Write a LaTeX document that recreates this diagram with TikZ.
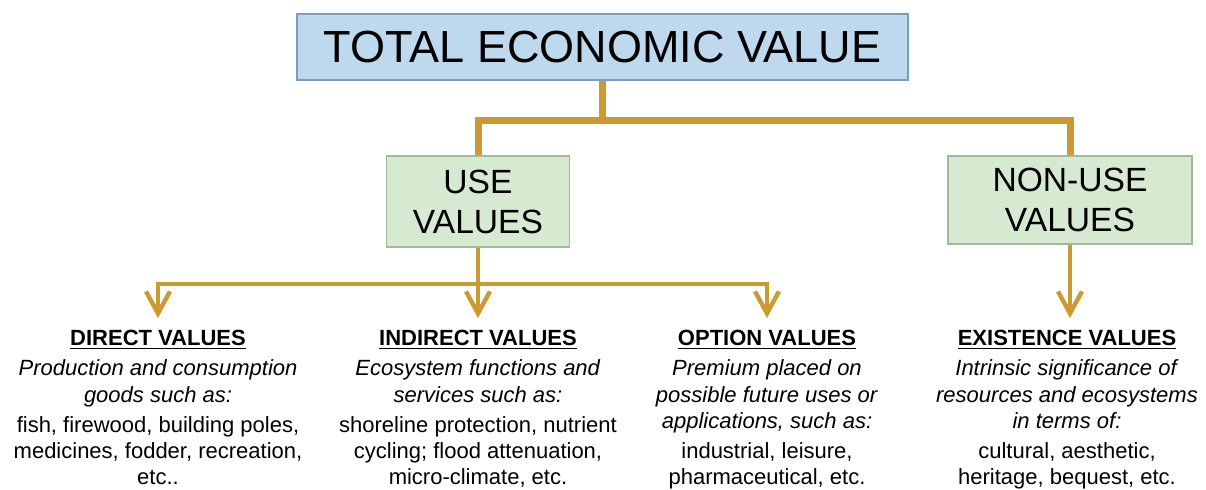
\documentclass[tikz,border=0pt]{standalone}
\usepackage{fontspec}
\setmainfont{Liberation Sans}
\usetikzlibrary{arrows.meta}
\definecolor{tevblue}{RGB}{190,216,238}
\definecolor{tevedge}{RGB}{125,155,192}
\definecolor{usegreen}{RGB}{214,233,209}
\definecolor{useedge}{RGB}{160,186,156}
\definecolor{gold}{RGB}{203,154,48}

\begin{document}
\begin{tikzpicture}[x=0.5pt,y=-0.5pt,
    topline/.style={gold,line width=3.5pt},
    subline/.style={gold,line width=2.2pt,shorten >=6pt,-{Straight Barb[length=11pt,width=12pt]}},
    valbox/.style={fill=usegreen,draw=useedge,line width=0.8pt,font=\fontsize{16.8}{20}\selectfont,align=center},
    valtext/.style={anchor=north,inner sep=0pt,align=center,font=\fontsize{11}{13.2}\selectfont}]
    \useasboundingbox(0,0)rectangle(1206,489);

    \node[fill=tevblue,draw=tevedge,line width=0.8pt,minimum width=305.5pt,minimum height=33pt,font=\fontsize{22.5}{27}\selectfont](tev)at(602.5,47){TOTAL ECONOMIC VALUE};
    \node[valbox,minimum width=91.5pt,minimum height=45.5pt](use)at(478,201.5){USE\\VALUES};
    \node[valbox,minimum width=122pt,minimum height=44pt](nonuse)at(1070,200){NON-USE\\VALUES};

    \node[valtext](direct)at(158,330){\underline{\textbf{DIRECT VALUES}}\\[1.8pt]
        \textit{Production and consumption}\\\textit{goods such as:}\\[1.8pt]
        fish, firewood, building poles,\\medicines, fodder, recreation,\\etc..};
    \node[valtext](indirect)at(478,330){\underline{\textbf{INDIRECT VALUES}}\\[1.8pt]
        \textit{Ecosystem functions and}\\\textit{services such as:}\\[1.8pt]
        shoreline protection, nutrient\\cycling; flood attenuation,\\micro-climate, etc.};
    \node[valtext](option)at(767,330){\underline{\textbf{OPTION VALUES}}\\[1.8pt]
        \textit{Premium placed on}\\\textit{possible future uses or}\\\textit{applications, such as:}\\[1.8pt]
        industrial, leisure,\\pharmaceutical, etc.};
    \node[valtext](existence)at(1067,330){\underline{\textbf{EXISTENCE VALUES}}\\[1.8pt]
        \textit{Intrinsic significance of}\\\textit{resources and ecosystems}\\\textit{in terms of:}\\[1.8pt]
        cultural, aesthetic,\\heritage, bequest, etc.};

    \coordinate(fork)at(602.5,120);
    \coordinate(split)at(478,284);
    \draw[topline](tev.south)--(fork);
    \draw[topline](use.north)|-(nonuse.north|-fork)--(nonuse.north);
    \draw[gold,line width=2.2pt](use.south)--(split);
    \draw[subline](split)-|(direct.north);
    \draw[subline](split)--(split|-indirect.north);
    \draw[subline](split)-|(option.north);
    \draw[subline](nonuse.south)--(nonuse.south|-existence.north);
\end{tikzpicture}
\end{document}
